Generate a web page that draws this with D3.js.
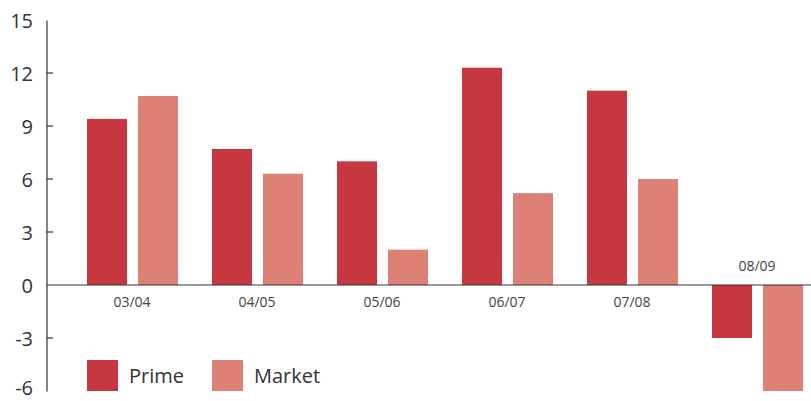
<!DOCTYPE html>
<html><head><meta charset="utf-8">
<script src="https://cdn.jsdelivr.net/npm/d3@7"></script>
<style>body{margin:0;background:#fff}svg{display:block}text{font-family:"Open Sans",sans-serif}</style>
</head><body><svg id="c" width="811" height="401"></svg>
<script>
const categories = ["03/04","04/05","05/06","06/07","07/08","08/09"];
const prime = [9.4, 7.7, 7.0, 12.3, 11.0, -3.0];
const market = [10.7, 6.3, 2.0, 5.2, 6.0, -6.0];
const seriesNames = ["Prime","Market"];
const yTicks = [15,12,9,6,3,0,-3,-6];
const colors = ["#c73740","#dd8177"];

const svg = d3.select("#c");
const y = d3.scaleLinear().domain([-6,15]).range([391,20]);
const x = d3.scaleBand().domain(categories).range([70,820]);
const sub = d3.scaleBand().domain(seriesNames).range([17,108]).paddingInner(11/51);

const series = [prime, market];
series.forEach((vals, si) => {
  svg.append("g").selectAll("rect").data(vals).join("rect")
    .attr("x", (d,i) => x(categories[i]) + sub(seriesNames[si]))
    .attr("width", sub.bandwidth())
    .attr("y", d => y(Math.max(0,d)))
    .attr("height", d => Math.abs(y(d)-y(0)))
    .attr("fill", colors[si]);
});

// zero line
svg.append("line").attr("x1",46.5).attr("x2",811).attr("y1",y(0)).attr("y2",y(0))
  .attr("stroke","#333").attr("stroke-width",1.2);

// y axis
const ax = svg.append("g").attr("transform","translate(46.5,0)")
  .call(d3.axisRight(y).tickValues(yTicks).tickSize(0).tickFormat(""));
ax.select(".domain").attr("stroke","#333").attr("stroke-width",1.2);
svg.append("g").selectAll("line").data(yTicks.filter(t=>t!==15&&t!==-6&&t!==0)).join("line")
  .attr("x1",46.5).attr("x2",53).attr("y1",d=>y(d)).attr("y2",d=>y(d))
  .attr("stroke","#333").attr("stroke-width",1.2);
svg.append("g").selectAll("text").data(yTicks).join("text")
  .attr("x",33).attr("y",d=>y(d) + (d===-6 ? -3 : 1)).attr("dy","0.35em").attr("text-anchor","end")
  .attr("font-size",20).attr("fill","#333").text(d=>d);

// category labels
svg.append("g").selectAll("text").data(categories).join("text")
  .attr("x",d=>x(d)+x.bandwidth()/2 - 0.5)
  .attr("y",(d,i)=> (prime[i]<0 ? y(0)-14 : y(0)+22))
  .attr("text-anchor","middle").attr("font-size",14).attr("fill","#444").text(d=>d);

// legend
const lg = svg.append("g");
seriesNames.forEach((n,i)=>{
  const lx = x(categories[i]) + 17;
  lg.append("rect").attr("x",lx).attr("y",360).attr("width",31).attr("height",31).attr("fill",colors[i]);
  lg.append("text").attr("x",lx+42).attr("y",383).attr("font-size",20).attr("fill","#333").text(n);
});
</script></body></html>
